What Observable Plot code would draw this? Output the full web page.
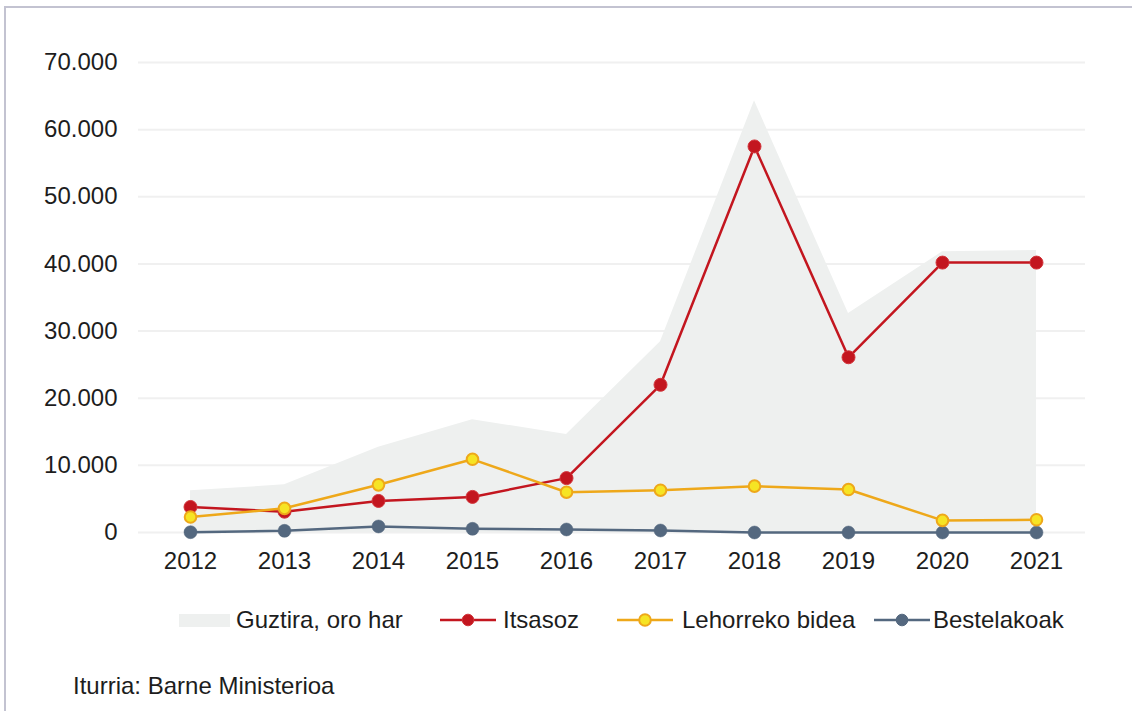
<!DOCTYPE html>
<html>
<head>
<meta charset="utf-8">
<script src="https://cdn.jsdelivr.net/npm/d3@7"></script>
<script src="https://cdn.jsdelivr.net/npm/@observablehq/plot@0.6"></script>
<style>
  html, body { margin: 0; padding: 0; background: #fff; }
  body { width: 1132px; height: 711px; position: relative; overflow: hidden;
         font-family: "Liberation Sans", Arial, Helvetica, sans-serif; color: #1d1d1d; }
  #frame { position: absolute; left: 4px; top: 6px; right: -10px; bottom: -10px;
           border-left: 2px solid #c3c3d1; border-top: 2px solid #c3c3d1; pointer-events: none; }
  #chart { position: absolute; left: 0; top: 0; }
  .leg { position: absolute; top: 606px; height: 28px; line-height: 28px; font-size: 24px; white-space: nowrap; }
  .leg svg { position: absolute; top: 0; }
  #caption { position: absolute; left: 73px; top: 672px; font-size: 24px; line-height: 28px; }
</style>
</head>
<body>
<div id="chart"></div>
<div id="legend"></div>
<div id="caption">Iturria: Barne Ministerioa</div>
<div id="frame"></div>
<script>
const years = [2012, 2013, 2014, 2015, 2016, 2017, 2018, 2019, 2020, 2021];
const guztira = [6200, 7100, 12700, 16800, 14600, 28400, 64300, 32600, 41800, 42000];
const itsasoz = [3800, 3100, 4700, 5300, 8100, 22000, 57500, 26100, 40200, 40200];
const lehorreko = [2300, 3600, 7100, 10900, 6000, 6300, 6900, 6400, 1800, 1900];
const bestelakoak = [50, 250, 900, 550, 450, 300, 0, 0, 0, 0];
const yTicks = [0, 10000, 20000, 30000, 40000, 50000, 60000, 70000];
const seriesNames = ["Guztira, oro har", "Itsasoz", "Lehorreko bidea", "Bestelakoak"];

const C = {
  area: "#eef0ef",
  red: "#c3161f",
  yellowLine: "#eea81a",
  yellowFill: "#f6e424",
  blue: "#54687f",
  grid: "#f0f0f0"
};

const rows = (vals) => years.map((y, i) => ({year: y, value: vals[i]}));
const dTot = rows(guztira), dRed = rows(itsasoz), dYel = rows(lehorreko), dBlu = rows(bestelakoak);

const fmt = d => d3.format(",")(d).replace(/,/g, ".");

const plot = Plot.plot({
  width: 1132,
  height: 585,
  marginLeft: 138,
  marginRight: 47,
  marginTop: 62,
  marginBottom: 53,
  style: {fontFamily: "Liberation Sans, Arial, sans-serif", fontSize: "24px", color: "#1d1d1d", background: "transparent"},
  x: {type: "linear", domain: [2012, 2021], range: [190, 1036], ticks: years, label: null, tickSize: 0, tickPadding: 19, tickFormat: d => String(d)},
  y: {domain: [0, 70000], label: null, ticks: yTicks, tickSize: 0, tickPadding: 21, tickFormat: fmt},
  marks: [
    Plot.ruleY(yTicks, {stroke: C.grid, strokeWidth: 2}),
    Plot.areaY(dTot, {x: "year", y: "value", fill: C.area}),
    Plot.line(dBlu, {x: "year", y: "value", stroke: C.blue, strokeWidth: 2.5}),
    Plot.dot(dBlu, {x: "year", y: "value", r: 6.5, fill: C.blue, stroke: C.blue, strokeWidth: 0.5}),
    Plot.line(dRed, {x: "year", y: "value", stroke: C.red, strokeWidth: 2.5}),
    Plot.dot(dRed, {x: "year", y: "value", r: 6.5, fill: C.red, stroke: "#d2343a", strokeWidth: 1}),
    Plot.line(dYel, {x: "year", y: "value", stroke: C.yellowLine, strokeWidth: 2.5}),
    Plot.dot(dYel, {x: "year", y: "value", r: 5.8, fill: C.yellowFill, stroke: C.yellowLine, strokeWidth: 2})
  ]
});
document.getElementById("chart").appendChild(plot);

// Legend
const legend = document.getElementById("legend");
const items = [
  {name: seriesNames[0], left: 179, textLeft: 236, kind: "area"},
  {name: seriesNames[1], left: 440, textLeft: 503, kind: "line", stroke: C.red, fill: C.red, dotStroke: "#d2343a"},
  {name: seriesNames[2], left: 617, textLeft: 682, kind: "line", stroke: C.yellowLine, fill: C.yellowFill, dotStroke: C.yellowLine},
  {name: seriesNames[3], left: 874, textLeft: 933, kind: "line", stroke: C.blue, fill: C.blue, dotStroke: C.blue}
];
for (const it of items) {
  const sw = document.createElement("div");
  sw.className = "leg";
  sw.style.left = it.left + "px";
  sw.style.width = "60px";
  if (it.kind === "area") {
    sw.innerHTML = `<svg width="52" height="28"><rect x="0" y="8" width="51" height="13" fill="${C.area}"/></svg>`;
  } else {
    sw.innerHTML = `<svg width="58" height="28"><line x1="0" x2="56" y1="14" y2="14" stroke="${it.stroke}" stroke-width="2.5"/><circle cx="28" cy="14" r="5.8" fill="${it.fill}" stroke="${it.dotStroke}" stroke-width="${it.fill === C.yellowFill ? 2 : 1}"/></svg>`;
  }
  legend.appendChild(sw);
  const tx = document.createElement("div");
  tx.className = "leg";
  tx.style.left = it.textLeft + "px";
  tx.textContent = it.name;
  legend.appendChild(tx);
}
</script>
</body>
</html>
